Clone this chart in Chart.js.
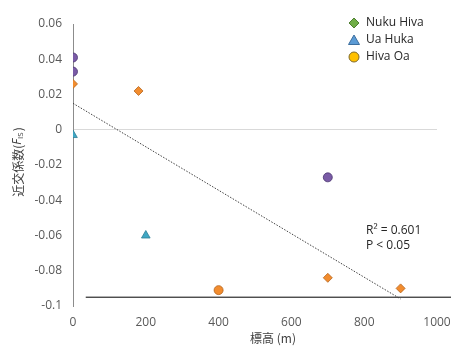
<!DOCTYPE html>
<html><head><meta charset="utf-8">
<script src="https://cdn.jsdelivr.net/npm/chart.js@4/dist/chart.umd.min.js"></script>
<style>html,body{margin:0;padding:0;background:#fff}canvas{display:block}</style>
</head><body>
<canvas id="c" width="451" height="347"></canvas>
<script>
// ---- data ----
const legendNames = ["Nuku Hiva", "Ua Huka", "Hiva Oa"];
const nukuHivaX = [0, 180, 700, 900];
const nukuHivaY = [0.026, 0.022, -0.084, -0.090];
const uaHukaX = [0, 200];
const uaHukaY = [-0.003, -0.060];
const hivaOaX = [0, 0, 700, 400];
const hivaOaY = [0.041, 0.033, -0.027, -0.091];
const trendX = [0, 900];
const trendY = [0.015, -0.096];
const baseLineX = [35, 1045];
const baseLineY = [-0.095, -0.095];
const xTicks = [0, 200, 400, 600, 800, 1000];
const yTicks = [0.06, 0.04, 0.02, 0, -0.02, -0.04, -0.06, -0.08, -0.1];
const statLines = ["R² = 0.601", "P < 0.05"];

const pts = (xs, ys) => xs.map((x, i) => ({x, y: ys[i]}));
const ORANGE = '#F28C2E', PURPLE = '#7A5BA6', TEAL = '#3FA7C4';
const FONT = "'Open Sans', 'Noto Sans', sans-serif";

const overlay = {
  id: 'overlay',
  afterDraw(chart) {
    const ctx = chart.ctx;
    ctx.save();
    // legend
    const lx = 354, ly = [23, 40, 57];
    ctx.fillStyle = '#70AD47'; ctx.strokeStyle = '#4E7F31'; ctx.lineWidth = 1;
    ctx.beginPath(); ctx.moveTo(lx, ly[0]-5); ctx.lineTo(lx+5, ly[0]); ctx.lineTo(lx, ly[0]+5); ctx.lineTo(lx-5, ly[0]); ctx.closePath(); ctx.fill(); ctx.stroke();
    ctx.fillStyle = '#5B9BD5'; ctx.strokeStyle = '#3C6E9E';
    ctx.beginPath(); ctx.moveTo(lx, ly[1]-5); ctx.lineTo(lx+5.5, ly[1]+4.5); ctx.lineTo(lx-5.5, ly[1]+4.5); ctx.closePath(); ctx.fill(); ctx.stroke();
    ctx.fillStyle = '#FFC000'; ctx.strokeStyle = '#7F6A2A';
    ctx.beginPath(); ctx.arc(lx, ly[2], 5, 0, Math.PI*2); ctx.fill(); ctx.stroke();
    ctx.fillStyle = '#262626'; ctx.font = "12px " + FONT; ctx.textBaseline = 'middle'; ctx.textAlign = 'left';
    legendNames.forEach((n, i) => ctx.fillText(n, 366, ly[i]));
    // stats
    ctx.fillText(statLines[0], 366, 231);
    ctx.fillText(statLines[1], 366, 246);
    // x title
    ctx.textAlign = 'center'; ctx.fillStyle = '#404040';
    ctx.font = "12px 'Noto Sans CJK JP', " + FONT;
    ctx.fillText("標高 (m)", 273, 338);
    // y title with subscript
    ctx.translate(18, 162); ctx.rotate(-Math.PI/2);
    const p1 = "近交係数(", pF = "F", pSub = "IS", p2 = ")";
    const f1 = "12px 'Noto Sans CJK JP', " + FONT, fF = "italic 12px " + FONT, fS = "8px " + FONT;
    ctx.font = f1; const w1 = ctx.measureText(p1).width, w2 = ctx.measureText(p2).width;
    ctx.font = fF; const wF = ctx.measureText(pF).width;
    ctx.font = fS; const wS = ctx.measureText(pSub).width;
    let x = -(w1 + wF + wS + w2 + 1) / 2;
    ctx.textAlign = 'left';
    ctx.font = f1; ctx.fillText(p1, x, 0); x += w1;
    ctx.font = fF; ctx.fillText(pF, x, 0); x += wF;
    ctx.font = fS; ctx.fillText(pSub, x, 3); x += wS + 1;
    ctx.font = f1; ctx.fillText(p2, x, 0);
    ctx.restore();
  }
};

new Chart(document.getElementById('c'), {
  type: 'scatter',
  data: {
    datasets: [
      { label: legendNames[0], data: pts(nukuHivaX, nukuHivaY), pointStyle: 'rectRot', pointRadius: 4.5,
        backgroundColor: ORANGE, borderColor: '#B5651D', borderWidth: 0.8 },
      { label: legendNames[1], data: pts(uaHukaX, uaHukaY), pointStyle: 'triangle', pointRadius: 5,
        backgroundColor: TEAL, borderColor: '#2E7F96', borderWidth: 0.8 },
      { label: legendNames[2], data: pts(hivaOaX, hivaOaY), pointStyle: 'circle', pointRadius: 4.5,
        backgroundColor: [PURPLE, PURPLE, PURPLE, ORANGE], borderColor: ['#4A3570', '#4A3570', '#4A3570', '#B5651D'], borderWidth: 0.8 },
      { type: 'line', label: 'trend', data: pts(trendX, trendY), borderColor: '#404040', borderWidth: 1,
        borderDash: [1.5, 1.5], pointRadius: 0, fill: false },
      { type: 'line', label: 'base', data: pts(baseLineX, baseLineY), borderColor: '#000', borderWidth: 1,
        pointRadius: 0, fill: false, clip: false }
    ]
  },
  options: {
    responsive: false, animation: false,
    layout: { padding: { left: 0, right: 0, top: 24, bottom: 0 } },
    plugins: { legend: { display: false }, tooltip: { enabled: false } },
    scales: {
      x: {
        type: 'linear', min: 0, max: 1000,
        afterBuildTicks: s => { s.ticks = xTicks.map(v => ({value: v})); },
        afterFit: s => { s.height = 41; s.paddingRight = 14; s.paddingLeft = 0; },
        grid: { display: false, drawTicks: false },
        border: { display: false },
        ticks: { padding: 9, color: '#595959', font: { family: FONT, size: 12 }, callback: v => String(v) }
      },
      y: {
        type: 'linear', min: -0.1, max: 0.06,
        afterBuildTicks: s => { s.ticks = yTicks.map(v => ({value: v})); },
        afterFit: s => { s.width = 73; },
        grid: { drawTicks: false, color: ctx => (ctx.tick && ctx.tick.value === 0) ? '#D9D9D9' : 'rgba(0,0,0,0)' },
        border: { display: true, color: '#8C8C8C', width: 1 },
        ticks: { padding: 11, color: '#595959', font: { family: FONT, size: 12 },
          callback: v => String(Math.round(v * 100) / 100) }
      }
    }
  },
  plugins: [overlay]
});
</script>
</body></html>
